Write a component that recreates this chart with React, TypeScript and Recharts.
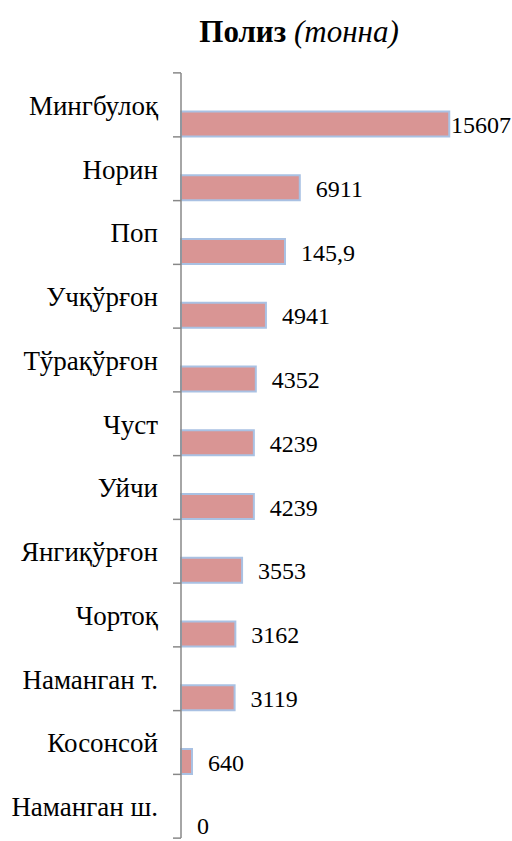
import React from 'react';
import { BarChart, Bar, XAxis, YAxis, LabelList, Rectangle } from 'recharts';

const districts = [
  'Мингбулоқ',
  'Норин',
  'Поп',
  'Учқўрғон',
  'Тўрақўрғон',
  'Чуст',
  'Уйчи',
  'Янгиқўрғон',
  'Чортоқ',
  'Наманган т.',
  'Косонсой',
  'Наманган ш.',
];
// bar lengths as drawn in the picture (Поп is drawn ~6000 though labelled 145,9)
const values = [15607, 6911, 6050, 4941, 4352, 4239, 4239, 3553, 3162, 3119, 640, 0];
const valueLabels = ['15607', '6911', '145,9', '4941', '4352', '4239', '4239', '3553', '3162', '3119', '640', '0'];

const data = districts.map((name, i) => ({ name, value: values[i], label: valueLabels[i] }));

const FONT = 'Liberation Serif';
const BAR_SHIFT = 19.5;
const HALF_BAND = 32;

function CategoryTick(props: any) {
  const { x, y, payload, index } = props;
  return (
    <g>
      <text x={x - 23} y={y + 1} textAnchor="end" dominantBaseline="central" style={{ fontFamily: FONT }} fontSize={27} fill="#000">
        {payload.value}
      </text>
      <line x1={x - 8} x2={x} y1={y + HALF_BAND} y2={y + HALF_BAND} stroke="#888" strokeWidth={1.5} />
      {index === 0 && <line x1={x - 8} x2={x} y1={y - HALF_BAND} y2={y - HALF_BAND} stroke="#888" strokeWidth={1.5} />}
    </g>
  );
}

function ShiftedBar(props: any) {
  const { x, y, width, height } = props;
  return (
    <Rectangle
      x={x}
      y={y + BAR_SHIFT}
      width={width}
      height={height}
      fill="#D99594"
      stroke="#A9C1E3"
      strokeWidth={2}
    />
  );
}

function ValueLabel(props: any) {
  const { x, y, width, height, index } = props;
  const tx = Math.min(x + width + 16, 451);
  return (
    <text
      x={tx}
      y={y + BAR_SHIFT + height / 2 + 1}
      dominantBaseline="central"
      style={{ fontFamily: FONT }}
      fontSize={24}
      fill="#000"
    >
      {valueLabels[index]}
    </text>
  );
}

export default function App() {
  return (
    <div style={{ position: 'absolute', left: 0, top: 0, width: 512, height: 841, background: '#fff', fontFamily: FONT }}>
      <div
        style={{
          position: 'absolute',
          left: 99,
          width: 400,
          top: 14,
          textAlign: 'center',
          fontSize: 31,
          lineHeight: '36px',
          color: '#000',
          fontFamily: FONT,
        }}
      >
        <b>Полиз</b> <i>(тонна)</i>
      </div>
      <BarChart
        width={512}
        height={841}
        data={data}
        layout="vertical"
        margin={{ top: 73, right: 56, bottom: 3, left: 0 }}
        barSize={25}
        style={{ fontFamily: FONT }}
      >
        <XAxis type="number" hide domain={[0, 16000]} />
        <YAxis
          type="category"
          dataKey="name"
          width={181}
          tickSize={0}
          tickMargin={0}
          tickLine={false}
          axisLine={{ stroke: '#888', strokeWidth: 1.5 }}
          tick={<CategoryTick />}
          interval={0}
        />
        <Bar dataKey="value" shape={<ShiftedBar />} isAnimationActive={false}>
          <LabelList dataKey="label" content={<ValueLabel />} />
        </Bar>
      </BarChart>
    </div>
  );
}
